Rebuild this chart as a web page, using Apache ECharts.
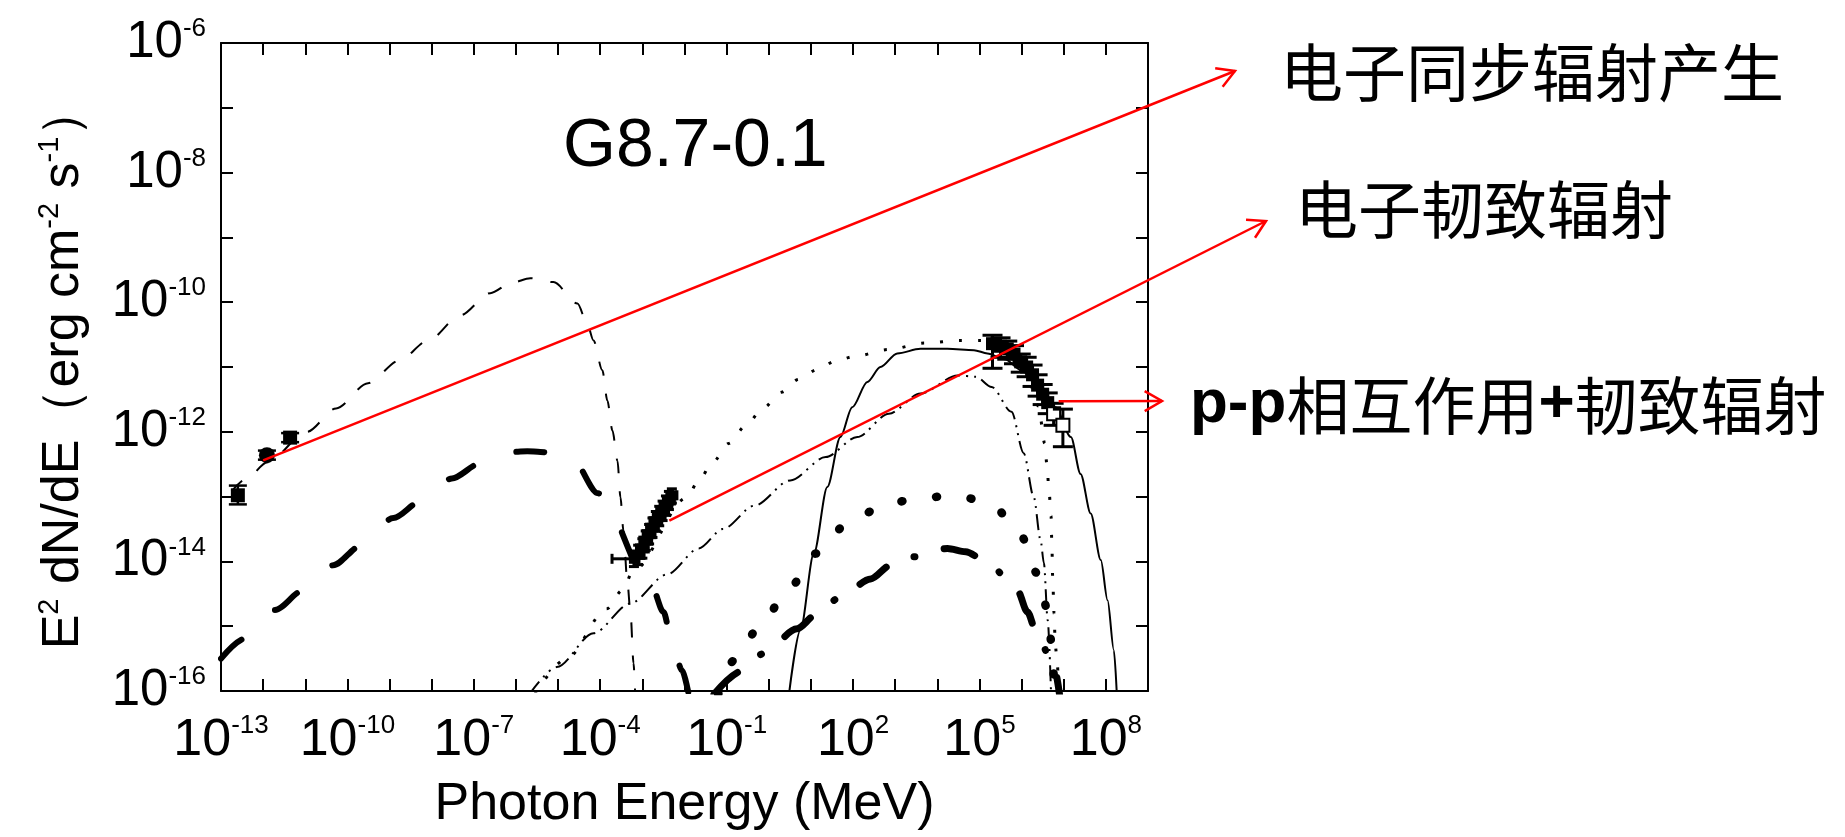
<!DOCTYPE html>
<html>
<head>
<meta charset="utf-8">
<title>G8.7-0.1</title>
<script src="https://cdn.jsdelivr.net/npm/echarts@6/dist/echarts.min.js"></script>
<style>
html, body { margin: 0; padding: 0; background: #fff; }
#chart { width: 1845px; height: 837px; }
</style>
</head>
<body>
<div id="chart"></div>
<script>
// every value below is a log10: [log10(E / MeV), log10(E^2 dN/dE)]
var xLabelTicks = [-13, -10, -7, -4, -1, 2, 5, 8];
var yLabelTicks = [-16, -14, -12, -10, -8, -6];

// thin dashed
var syncThin = [[-12.75,-12.92],[-12.39,-12.72],[-11.9,-12.47],[-10.96,-12.00],[-10.27,-11.64],[-9.51,-11.25],
  [-8.77,-10.90],[-8.08,-10.59],[-7.32,-10.20],[-6.61,-9.86],[-6.1,-9.70],[-5.66,-9.63],[-5.11,-9.69],[-4.54,-10.02],
  [-4.31,-10.33],[-4.16,-10.59],[-3.95,-11.05],[-3.83,-11.52],[-3.71,-11.98],[-3.59,-12.45],[-3.52,-13.01],
  [-3.45,-13.52],[-3.36,-14.29],[-3.28,-14.80],[-3.21,-15.57],[-3.17,-16.05]];
// thick long dashes
var syncThick = [[-13.0,-15.50],[-12.43,-15.19],[-11.72,-14.75],[-11.05,-14.45],[-10.34,-14.06],[-9.66,-13.75],
  [-8.91,-13.33],[-8.23,-13.06],[-7.52,-12.72],[-6.85,-12.49],[-6.06,-12.31],[-5.73,-12.30],[-5.42,-12.31],
  [-4.67,-12.41],[-4.05,-12.95],[-2.77,-14.40],[-2.50,-14.78],[-2.29,-15.26],[-2.06,-15.68],[-1.90,-16.05]];
// thin dotted
var totalThin = [[-5.55,-16.05],[-4.80,-15.50],[-3.84,-14.73],[-3.48,-14.45],[-3.21,-14.14],[-1.95,-13.02],
  [-1.66,-12.75],[-1.33,-12.47],[-0.95,-12.18],[-0.55,-11.91],[-0.13,-11.63],[0.30,-11.39],[0.71,-11.19],
  [1.15,-11.04],[1.58,-10.91],[2.01,-10.84],[2.85,-10.73],[3.70,-10.63],[4.54,-10.59],[5.03,-10.59],
  [5.6,-10.70],[6.1,-11.05],[6.4,-11.6],[6.55,-12.18],[6.60,-12.5],[6.65,-12.9],[6.70,-13.3],[6.72,-13.8],
  [6.74,-14.3],[6.77,-14.8],[6.80,-15.3],[6.85,-15.6],[6.88,-16.05]];
// thin dash-dot-dot
var bremThin = [[-5.68,-16.05],[-5.03,-15.63],[-4.16,-15.11],[-3.29,-14.65],[-2.41,-14.20],[-1.66,-13.80],
  [-1.09,-13.50],[-0.34,-13.14],[0.51,-12.75],[1.35,-12.39],[2.10,-12.08],[2.85,-11.72],[3.60,-11.41],
  [4.48,-11.13],[4.92,-11.15],[5.29,-11.31],[5.76,-11.69],[6.05,-12.33],[6.29,-13.01],[6.45,-13.67],
  [6.53,-14.03],[6.62,-14.91],[6.70,-16.05]];
// solid
var pionThin = [[0.48,-16.05],[0.75,-15.06],[1.07,-13.88],[1.39,-12.85],[1.70,-12.08],[1.98,-11.62],[2.34,-11.23],
  [2.65,-11.00],[3.05,-10.79],[3.60,-10.72],[4.24,-10.72],[4.87,-10.74],[5.19,-10.79],[5.6,-10.88],[6.0,-11.05],
  [6.4,-11.3],[6.8,-11.62],[7.17,-12.08],[7.40,-12.65],[7.64,-13.26],[7.88,-13.98],[8.04,-14.60],[8.19,-15.37],
  [8.26,-16.05]];
// thick dotted
var totalThick = [[-1.2,-16.05],[-0.83,-15.53],[-0.19,-14.99],[0.44,-14.45],[1.12,-13.88],[1.94,-13.37],
  [2.81,-13.11],[3.60,-13.02],[4.48,-12.98],[5.31,-13.13],[5.98,-13.60],[6.38,-14.19],[6.61,-14.73],
  [6.72,-15.3],[6.78,-16.05]];
// thick dash-dot
var bremThick = [[-1.3,-16.05],[-0.63,-15.69],[-0.12,-15.42],[0.67,-15.04],[1.11,-14.83],[1.66,-14.57],
  [2.42,-14.27],[2.89,-14.06],[3.41,-13.93],[4.24,-13.80],[4.67,-13.85],[5.19,-14.01],[5.90,-14.45],
  [6.14,-14.78],[6.34,-15.07],[6.77,-15.63],[6.9,-16.05]];

// points: [x, y, yLow, yHigh, xLow, xHigh, shape 0 square / 1 open square / 2 circle]
var radioPts = [[-12.60,-12.98,-13.12,-12.83,-12.60,-12.60,0],
  [-11.91,-12.36,-12.43,-12.29,-11.91,-11.91,2],
  [-11.36,-12.09,-12.16,-12.02,-11.36,-11.36,0]];
var xrayPts = [[-3.20,-13.96,-14.08,-13.84,-3.72,-3.08,0],[-3.10,-13.90,-14.05,-13.75,-3.24,-2.96,0],
  [-3.00,-13.80,-13.95,-13.65,-3.14,-2.86,0],[-2.92,-13.68,-13.83,-13.53,-3.06,-2.78,0],
  [-2.84,-13.58,-13.73,-13.43,-2.98,-2.70,0],[-2.76,-13.48,-13.63,-13.33,-2.90,-2.62,0],
  [-2.68,-13.38,-13.53,-13.23,-2.82,-2.54,0],[-2.60,-13.30,-13.45,-13.15,-2.74,-2.46,0],
  [-2.52,-13.22,-13.37,-13.07,-2.66,-2.38,0],[-2.44,-13.14,-13.29,-12.99,-2.58,-2.30,0],
  [-2.37,-13.06,-13.20,-12.92,-2.50,-2.24,0],[-2.30,-12.98,-13.10,-12.88,-2.42,-2.18,0]];
var gammaPts = [[5.31,-10.64,-11.02,-10.51,5.31,5.31,0],[5.50,-10.68,-10.85,-10.55,5.50,5.50,0],
  [5.66,-10.72,-10.88,-10.60,5.66,5.66,0],[5.82,-10.80,-10.95,-10.67,5.82,5.82,0],
  [5.98,-10.92,-11.08,-10.80,5.98,5.98,0],[6.12,-11.00,-11.15,-10.85,6.12,6.12,0],
  [6.26,-11.12,-11.30,-10.97,6.26,6.26,0],[6.38,-11.28,-11.45,-11.12,6.38,6.38,0],
  [6.50,-11.42,-11.58,-11.27,6.50,6.50,0],[6.62,-11.55,-11.72,-11.40,6.62,6.62,0],
  [6.76,-11.72,-11.90,-11.56,6.76,6.76,1],[6.98,-11.90,-12.23,-11.65,6.98,6.98,1]];

// annotation arrows: tail on the data (log coords), tip next to the text (pixels)
var arrowFrom = [[-12.0,-12.44],[-2.36,-13.37],[6.88,-11.53]];
var arrowTip = [[1235,71],[1266,221],[1162,401]];

var LATIN = '"Liberation Sans", Arial, sans-serif';
var CJK = '"Noto Sans CJK SC", sans-serif';

var chart = echarts.init(document.getElementById('chart'));

function curve(data, dash, width, cap) {
  return {
    type: 'line', data: data, symbol: 'none', showSymbol: false,
    smooth: 0.3, smoothMonotone: 'x', silent: true, z: 3,
    lineStyle: { color: '#000', width: width, type: dash, cap: cap || 'butt' }
  };
}

function pointSeries(data, mark, cap, lw) {
  return {
    type: 'custom', data: data, z: 10, silent: true,
    encode: { x: 0, y: 1 },
    renderItem: function (params, api) {
      var x = api.value(0), y = api.value(1);
      var c = api.coord([x, y]);
      var lo = api.coord([x, api.value(2)]), hi = api.coord([x, api.value(3)]);
      var xl = api.coord([api.value(4), y]), xh = api.coord([api.value(5), y]);
      var shape = api.value(6);
      var st = { stroke: '#000', lineWidth: lw };
      var kids = [
        { type: 'line', shape: { x1: c[0], y1: lo[1], x2: c[0], y2: hi[1] }, style: st },
        { type: 'line', shape: { x1: c[0] - cap, y1: lo[1], x2: c[0] + cap, y2: lo[1] }, style: st },
        { type: 'line', shape: { x1: c[0] - cap, y1: hi[1], x2: c[0] + cap, y2: hi[1] }, style: st }
      ];
      if (xh[0] - xl[0] > 1) {
        kids.push({ type: 'line', shape: { x1: xl[0], y1: c[1], x2: xh[0], y2: c[1] }, style: st });
        kids.push({ type: 'line', shape: { x1: xl[0], y1: c[1] - cap, x2: xl[0], y2: c[1] + cap }, style: st });
        kids.push({ type: 'line', shape: { x1: xh[0], y1: c[1] - cap, x2: xh[0], y2: c[1] + cap }, style: st });
      }
      if (shape === 2) {
        kids.push({ type: 'circle', shape: { cx: c[0], cy: c[1], r: mark / 2 + 1 }, style: { fill: '#000' } });
      } else if (shape === 1) {
        kids.push({ type: 'rect', shape: { x: c[0] - mark / 2, y: c[1] - mark / 2, width: mark, height: mark },
          style: { fill: '#fff', stroke: '#000', lineWidth: 2 } });
      } else {
        kids.push({ type: 'rect', shape: { x: c[0] - mark / 2, y: c[1] - mark / 2, width: mark, height: mark },
          style: { fill: '#000' } });
      }
      return { type: 'group', children: kids };
    }
  };
}

var axLine = { show: true, onZero: false, lineStyle: { color: '#000', width: 2 } };
var axTick = { show: true, inside: true, length: 12, lineStyle: { color: '#000', width: 2 } };
var supRich = {
  b: { fontSize: 52, fontFamily: LATIN, color: '#000', lineHeight: 56 },
  s: { fontSize: 26, fontFamily: LATIN, color: '#000', lineHeight: 20, verticalAlign: 'top' }
};

var option = {
  animation: false,
  backgroundColor: '#fff',
  title: {
    text: 'G8.7-0.1', left: 563, top: 113, padding: 0,
    textStyle: { fontSize: 68, fontWeight: 'normal', fontFamily: LATIN, color: '#000' }
  },
  grid: { left: 221, top: 43, width: 927, height: 648 },
  xAxis: [{
    type: 'value', min: -13, max: 9, interval: 1, position: 'bottom',
    axisLine: axLine, axisTick: axTick, splitLine: { show: false },
    axisLabel: {
      margin: 22, rich: supRich,
      formatter: function (v) { return xLabelTicks.indexOf(v) < 0 ? '' : '{b|10}{s|' + v + '}'; }
    },
    name: 'Photon Energy (MeV)', nameLocation: 'middle', nameGap: 88,
    nameTextStyle: { fontSize: 52, fontFamily: LATIN, color: '#000', lineHeight: 52 }
  }, {
    type: 'value', min: -13, max: 9, interval: 1, position: 'top',
    axisLine: axLine, axisTick: axTick, splitLine: { show: false }, axisLabel: { show: false }
  }],
  yAxis: [{
    type: 'value', min: -16, max: -6, interval: 1, position: 'left',
    axisLine: axLine, axisTick: axTick, splitLine: { show: false },
    axisLabel: {
      margin: 15, rich: { b: { fontSize: 51, fontFamily: LATIN, color: '#000', lineHeight: 54 },
        s: { fontSize: 26, fontFamily: LATIN, color: '#000', lineHeight: 20, verticalAlign: 'top' } },
      formatter: function (v) { return yLabelTicks.indexOf(v) < 0 ? '' : '{b|10}{s|' + v + '}'; }
    },
    name: 'E{s|2} dN/dE（erg cm{s|-2} s{s|-1}）', nameLocation: 'middle', nameRotate: 90, nameGap: 128,
    nameTextStyle: {
      fontSize: 52, fontFamily: LATIN, color: '#000', lineHeight: 58,
      rich: { s: { fontSize: 29, fontFamily: LATIN, color: '#000', lineHeight: 22, verticalAlign: 'top' } }
    }
  }, {
    type: 'value', min: -16, max: -6, interval: 1, position: 'right',
    axisLine: axLine, axisTick: axTick, splitLine: { show: false }, axisLabel: { show: false }
  }],
  series: [
    curve(syncThin, [15, 18], 2),
    curve(syncThick, [28, 46], 6, 'round'),
    curve(totalThin, [3, 16], 3),
    curve(bremThin, [16, 6, 2, 6, 2, 6], 2),
    curve(pionThin, 'solid', 2),
    curve(totalThick, [1, 34], 8.5, 'round'),
    curve(bremThick, [32, 30, 1, 30], 7, 'round'),
    pointSeries(radioPts, 14, 9, 2.5),
    pointSeries(xrayPts, 10, 5, 3),
    pointSeries(gammaPts, 13, 10, 3)
  ]
};

chart.setOption(option);

// red arrows and Chinese notes
var red = { stroke: '#ff0000', lineWidth: 2.5, fill: null };
var notes = [];
arrowFrom.forEach(function (a, i) {
  var s = chart.convertToPixel({ gridIndex: 0 }, a);
  var t = arrowTip[i];
  var ang = Math.atan2(t[1] - s[1], t[0] - s[0]);
  var L = 20, sp = Math.PI / 6;
  notes.push({ type: 'line', z: 100, shape: { x1: s[0], y1: s[1], x2: t[0], y2: t[1] }, style: red });
  notes.push({ type: 'polyline', z: 100, shape: { points: [
    [t[0] - L * Math.cos(ang - sp), t[1] - L * Math.sin(ang - sp)], t,
    [t[0] - L * Math.cos(ang + sp), t[1] - L * Math.sin(ang + sp)]] }, style: red });
});
notes.push({ type: 'text', x: 1280, y: 72, z: 100,
  style: { text: '电子同步辐射产生', fontSize: 63, fontFamily: CJK, fill: '#000', verticalAlign: 'middle' } });
notes.push({ type: 'text', x: 1295, y: 209, z: 100,
  style: { text: '电子韧致辐射', fontSize: 63, fontFamily: CJK, fill: '#000', verticalAlign: 'middle' } });
notes.push({ type: 'text', x: 1190, y: 405, z: 100,
  style: { text: '{b|p-p}相互作用{b|+}韧致辐射', fontSize: 63, fontFamily: CJK, fill: '#000', verticalAlign: 'middle',
    rich: { b: { fontSize: 62, fontFamily: LATIN, fontWeight: 'bold', fill: '#000' } } } });
chart.setOption({ graphic: notes });
</script>
</body>
</html>
